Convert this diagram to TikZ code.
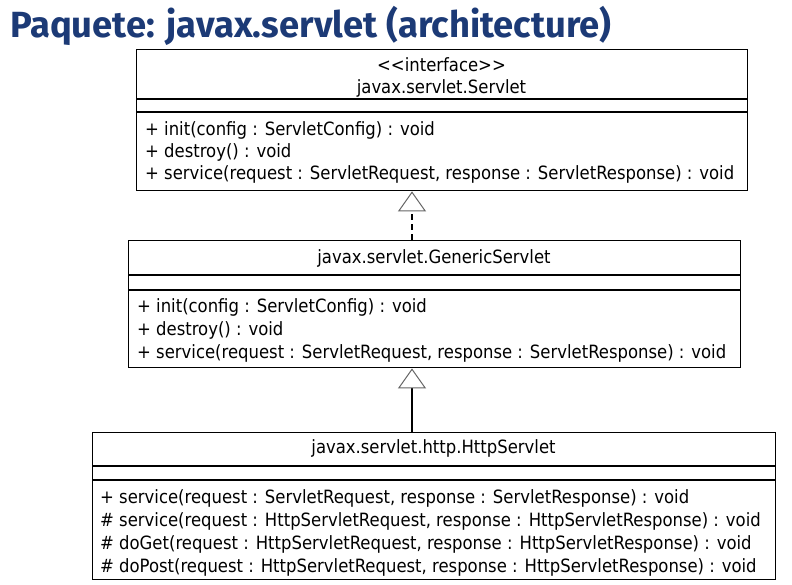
\documentclass[tikz,border=0pt]{standalone}
\usepackage{fontspec}
\setmainfont{DejaVu Sans Condensed}
\newfontfamily\titlefont{Fira Sans}
\usetikzlibrary{arrows.meta}
\definecolor{titleblue}{RGB}{28,58,118}
\begin{document}
\begin{tikzpicture}[x=1pt,y=-1pt,
  umlbox/.style={draw, line width=1.4pt, inner sep=0pt, anchor=north west},
  sepline/.style={line width=1.4pt},
  uml/.style={font=\fontsize{18.3}{21}\selectfont, inner sep=0pt},
  meth/.style={uml, anchor=base west},
  cname/.style={uml, anchor=base},
  gen/.style={line width=1.4pt, -{Triangle[open, length=20pt, width=28pt, line width=1pt, color=black!60]}}
]
\useasboundingbox (0,0) rectangle (792,585);
\node[anchor=base west, inner sep=0pt, text=titleblue, font=\titlefont\bfseries\fontsize{36.4}{40}\selectfont] (title) at (10,38) {Paquete: javax.servlet (architecture)};

% Box 1
\node[umlbox, minimum width=611pt, minimum height=141pt] (servlet) at (136,49) {};
\draw[sepline] (136,99) -- (747,99);
\draw[sepline] (136,112) -- (747,112);
\node[cname] (s1) at (441.5,72) {<{}<interface>{}>};
\node[cname] (s2) at (441.5,94) {javax.servlet.Servlet};
\node[meth] (s3) at (145,136) {+ init(config : ServletConfig) : void};
\node[meth] (s4) at (145,158) {+ destroy() : void};
\node[meth] (s5) at (145,180) {+ service(request : ServletRequest, response : ServletResponse) : void};

% Box 2
\node[umlbox, minimum width=612pt, minimum height=127pt] (generic) at (128,240) {};
\draw[sepline] (128,275) -- (740,275);
\draw[sepline] (128,290) -- (740,290);
\node[cname] (g1) at (434,264) {javax.servlet.GenericServlet};
\node[meth] (g2) at (137,312) {+ init(config : ServletConfig) : void};
\node[meth] (g3) at (137,335) {+ destroy() : void};
\node[meth] (g4) at (137,358) {+ service(request : ServletRequest, response : ServletResponse) : void};

% Box 3
\node[umlbox, minimum width=683pt, minimum height=147pt] (http) at (92,432) {};
\draw[sepline] (92,466) -- (775,466);
\draw[sepline] (92,480) -- (775,480);
\node[cname] (h1) at (433.5,453) {javax.servlet.http.HttpServlet};
\node[meth] (h2) at (100,503) {+ service(request : ServletRequest, response : ServletResponse) : void};
\node[meth] (h3) at (100,526) {\# service(request : HttpServletRequest, response : HttpServletResponse) : void};
\node[meth] (h4) at (100,549) {\# doGet(request : HttpServletRequest, response : HttpServletResponse) : void};
\node[meth] (h5) at (100,572) {\# doPost(request : HttpServletRequest, response : HttpServletResponse) : void};

% connectors
\coordinate (ax) at (412,0);
\draw[gen, dash pattern=on 6pt off 4pt] (ax |- generic.north) -- (ax |- servlet.south);
\draw[gen] (ax |- http.north) -- (ax |- generic.south);
\end{tikzpicture}
\end{document}
